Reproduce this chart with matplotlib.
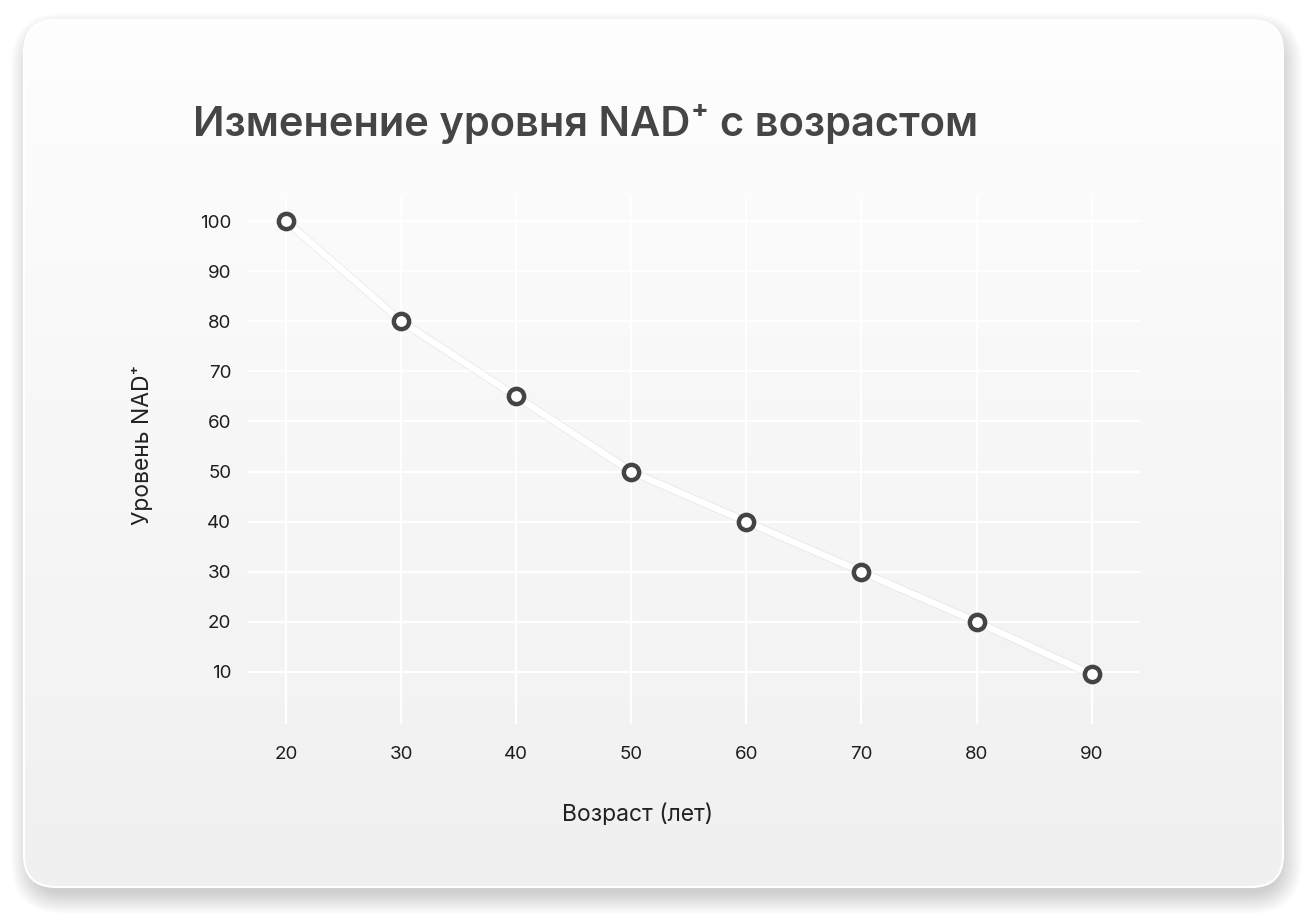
import numpy as np
import matplotlib.pyplot as plt
from matplotlib.patches import FancyBboxPatch

# данные
ages = [20, 30, 40, 50, 60, 70, 80, 90]
nad_level = [100, 80, 65, 50, 40, 30, 20, 9.5]
y_ticks = [10, 20, 30, 40, 50, 60, 70, 80, 90, 100]
title = "Изменение уровня NAD⁺ с возрастом"
x_label = "Возраст (лет)"
y_label = "Уровень NAD⁺"

plt.rcParams['font.family'] = ['Inter', 'DejaVu Sans']

W, H = 1313, 919
fig = plt.figure(figsize=(W / 100, H / 100), dpi=100)
fig.patch.set_facecolor("white")

# фон-карточка в пиксельных координатах
bg = fig.add_axes([0, 0, 1, 1], zorder=0)
bg.set_xlim(0, W)
bg.set_ylim(H, 0)
bg.axis("off")

cx0, cy0, cx1, cy1, rad = 24, 20, 1283, 887, 32
# мягкая тень (смещена вниз-вправо)
for i in range(16):
    g = i * 1.4
    sh = FancyBboxPatch((cx0 - g + 8, cy0 - g + 14), (cx1 - cx0) + 2 * g - 10, (cy1 - cy0) + 2 * g - 8,
                        boxstyle=f"round,pad=0,rounding_size={rad + g}",
                        fc="black", ec="none", alpha=0.011)
    bg.add_patch(sh)

card = FancyBboxPatch((cx0, cy0), cx1 - cx0, cy1 - cy0,
                      boxstyle=f"round,pad=0,rounding_size={rad}",
                      fc="none", ec="white", lw=1.5, zorder=3)
bg.add_patch(card)
grad = np.linspace(0, 1, 256).reshape(-1, 1)
top = np.array([254, 254, 254]) / 255
bot = np.array([240, 240, 240]) / 255
img = top + (bot - top) * grad[..., None]
im = bg.imshow(img, extent=(cx0, cx1, cy1, cy0), aspect="auto", zorder=2)
im.set_clip_path(card)

# основной график
ax = fig.add_axes([248 / W, 1 - 724 / H, (1140 - 248) / W, (724 - 197) / H], zorder=1)
ax.set_facecolor("none")
ax.set_xlim(16.7, 94.2)
ax.set_ylim(-0.4, 104.8)
for s in ax.spines.values():
    s.set_visible(False)
ax.set_xticks(ages)
ax.set_yticks(y_ticks)
ax.grid(True, color="white", lw=1.6)
ax.set_axisbelow(True)
ax.tick_params(length=0, labelsize=13.5, colors="#1e1e1e")
ax.tick_params(axis="x", pad=16)
ax.tick_params(axis="y", pad=12)

ax.plot(ages, nad_level, color="#d8d8d8", lw=6, alpha=0.35, zorder=2,
        solid_capstyle="round")
ax.plot(ages, nad_level, color="white", lw=4.5, zorder=3, solid_capstyle="round")
ax.plot(ages, nad_level, ls="none", marker="o", ms=11, mew=3.2,
        mec="#444444", mfc="white", zorder=4)

fig.text(193 / W, 1 - 136 / H, title, fontsize=30, fontweight="semibold",
         color="#454545", va="baseline", ha="left")
fig.text(638 / W, 1 - 815 / H, x_label, fontsize=16.5, color="#222222",
         ha="center", va="center")
fig.text(143 / W, 1 - 445 / H, y_label, fontsize=16.5, color="#222222",
         ha="center", va="center", rotation=90)

fig.savefig("out.png", dpi=100)
